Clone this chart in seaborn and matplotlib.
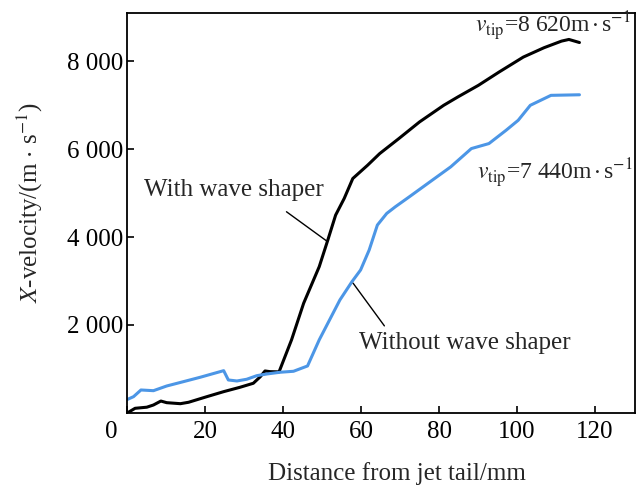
import numpy as np
import pandas as pd
import matplotlib
matplotlib.use('Agg')
import matplotlib.pyplot as plt
import matplotlib.transforms as mtransforms
import seaborn as sns

# jet X-velocity along the jet
dist_with = [0.2, 2.1, 5.1, 6.8, 8.7, 10.2, 13.7, 15.8, 20.5, 24.8, 29.0, 32.4, 34.2, 35.4, 36.7, 39.0,
             42.2, 45.3, 49.3, 51.5, 53.5, 55.7, 57.9, 61.7, 64.8, 69.7, 75.0, 81.2, 84.8, 90.1,
             95.4, 101.6, 106.9, 111.4, 113.3, 116.0]
vel_with = [0, 100, 125, 175, 265, 228, 205, 237, 365, 479, 579, 670, 820, 950, 934, 930,
            1659, 2492, 3326, 3932, 4500, 4879, 5333, 5636, 5901, 6242, 6621, 7000, 7189, 7455,
            7758, 8098, 8311, 8462, 8500, 8430]

dist_without = [0.2, 1.7, 3.6, 6.8, 10.2, 14.5, 18.8, 24.8, 26.0, 28.2, 30.7, 33.3, 35.9, 39.3,
                42.7, 46.3, 49.3, 54.6, 57.7, 59.9, 62.1, 64.2, 66.6, 68.8, 72.4, 77.7, 83.0,
                88.3, 92.8, 97.2, 100.3, 103.4, 108.7, 116.0]
vel_without = [305, 365, 517, 501, 608, 707, 807, 957, 745, 722, 761, 843, 882, 921,
               943, 1064, 1659, 2568, 2985, 3250, 3705, 4273, 4538, 4689, 4917, 5258, 5598,
               6015, 6129, 6432, 6659, 7000, 7227, 7240]

x_ticks = [0, 20, 40, 60, 80, 100, 120]
y_ticks = [2000, 4000, 6000, 8000]
y_tick_labels = ['2 000', '4 000', '6 000', '8 000']

black = '#000000'
blue = '#4C96E6'

df = pd.concat([
    pd.DataFrame({'dist': dist_with, 'vel': vel_with, 'case': 'with'}),
    pd.DataFrame({'dist': dist_without, 'vel': vel_without, 'case': 'without'}),
])

sns.set_style('ticks')
plt.rcParams['font.family'] = ['Liberation Serif', 'DejaVu Serif']
plt.rcParams['mathtext.fontset'] = 'stix'

fig = plt.figure(figsize=(6.41, 4.87), dpi=100)
ax = fig.add_axes([0.198, 0.1526, 0.793, 0.8214])

sns.lineplot(data=df, x='dist', y='vel', hue='case', palette={'with': black, 'without': blue},
             sort=False, estimator=None, linewidth=2.2, legend=False, ax=ax)

ax.set_xlim(0, 130.3)
ax.set_ylim(0, 9110)
ax.set_xticks(x_ticks)
ax.set_xticklabels([str(t) for t in x_ticks])
ax.set_yticks(y_ticks)
ax.set_yticklabels(y_tick_labels)
ax.tick_params(direction='in', length=5, width=1.2, labelsize=18, colors='black')
ax.tick_params(axis='x', pad=6)
ax.tick_params(axis='y', pad=3)
for s in ax.spines.values():
    s.set_visible(True)
    s.set_linewidth(1.3)
    s.set_color('black')

# origin label sits left of the frame corner
lbl0 = ax.get_xticklabels()[0]
lbl0.set_transform(lbl0.get_transform() + mtransforms.ScaledTranslation(-0.16, 0, fig.dpi_scale_trans))

ax.set_xlabel('Distance from jet tail/mm', fontsize=18)
ax.set_ylabel(r'$X$-velocity/(m $\cdot$ s$^{-1}$)', fontsize=18)
ax.xaxis.label.set_va('center')
ax.yaxis.label.set_va('center')
ax.xaxis.set_label_coords(0.532, -0.151)
ax.yaxis.set_label_coords(-0.19, 0.525)

ax.text(89.3, 8790, r'$v_{\mathrm{tip}}$=8 620m$\,{\cdot}\,$s$^{-1}$', fontsize=17, va='center', ha='left')
ax.text(89.8, 5460, r'$v_{\mathrm{tip}}$=7 440m$\,{\cdot}\,$s$^{-1}$', fontsize=17, va='center', ha='left')
ax.text(4.5, 5068, 'With wave shaper', fontsize=18, va='center', ha='left')
ax.text(59.5, 1583, 'Without wave shaper', fontsize=18, va='center', ha='left')

ax.plot([40.9, 51.1], [4576, 3917], color='black', linewidth=1.0)
ax.plot([58.0, 66.0], [2947, 1977], color='black', linewidth=1.0)

fig.savefig('out.png', dpi=100)
